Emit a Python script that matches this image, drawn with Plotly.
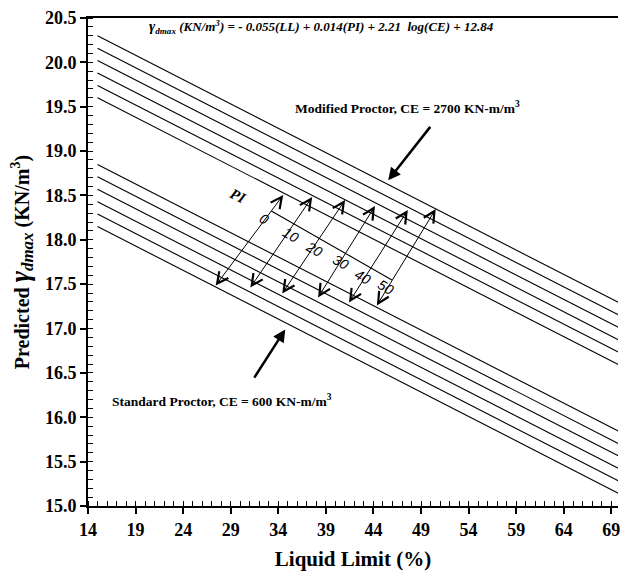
import plotly.graph_objects as go

# ---- data ----
ll_ends = [15, 70]                       # Liquid Limit (%) at line ends
pi_values = [0, 10, 20, 30, 40, 50]      # Plasticity index of each line
modified_start = [19.60, 19.74, 19.88, 20.02, 20.16, 20.30]   # at LL = 15
modified_end = [16.58, 16.72, 16.86, 17.00, 17.14, 17.28]     # at LL = 70
standard_start = [18.15, 18.29, 18.43, 18.57, 18.71, 18.85]   # at LL = 15
standard_end = [15.13, 15.27, 15.41, 15.55, 15.69, 15.83]     # at LL = 70

x_ticks = [14, 19, 24, 29, 34, 39, 44, 49, 54, 59, 64, 69]
y_ticks = [15.0, 15.5, 16.0, 16.5, 17.0, 17.5, 18.0, 18.5, 19.0, 19.5, 20.0, 20.5]

SERIF = "Liberation Serif"
SANS = "Liberation Sans"

fig = go.Figure()
for group_start, group_end in [(modified_start, modified_end), (standard_start, standard_end)]:
    for pi, y0, y1 in zip(pi_values, group_start, group_end):
        fig.add_trace(go.Scatter(x=ll_ends, y=[y0, y1], mode="lines",
                                 line=dict(color="black", width=1.1),
                                 name=f"PI {pi}", showlegend=False, hoverinfo="skip"))

annotations = []
# equation
annotations.append(dict(
    x=38.5, y=20.40, xref="x", yref="y", showarrow=False,
    text="<b><i><span style='font-size:15px'>γ</span><sub>dmax</sub> (KN/m<sup>3</sup>) = - 0.055(LL) + 0.014(PI) + 2.21\u00a0 log(CE) + 12.84</i></b>",
    font=dict(family=SERIF, size=13, color="black")))
# group labels
annotations.append(dict(x=47.6, y=19.49, xref="x", yref="y", showarrow=False,
                        text="<b>Modified Proctor, CE = 2700 KN-m/m<sup>3</sup></b>",
                        font=dict(family=SERIF, size=13.5, color="black")))
annotations.append(dict(x=28.1, y=16.19, xref="x", yref="y", showarrow=False,
                        text="<b>Standard Proctor, CE = 600 KN-m/m<sup>3</sup></b>",
                        font=dict(family=SERIF, size=13.5, color="black")))
# thick pointer arrows
annotations.append(dict(x=45.55, y=18.67, ax=50.09, ay=19.29, xref="x", yref="y",
                        axref="x", ayref="y", text="", showarrow=True,
                        arrowhead=2, arrowsize=1, arrowwidth=2.5, arrowcolor="black"))
annotations.append(dict(x=34.73, y=16.99, ax=31.38, ay=16.43, xref="x", yref="y",
                        axref="x", ayref="y", text="", showarrow=True,
                        arrowhead=2, arrowsize=1, arrowwidth=2.5, arrowcolor="black"))
# PI label
annotations.append(dict(x=29.74, y=18.49, xref="x", yref="y", showarrow=False,
                        text="<b><i>PI</i></b>", textangle=27,
                        font=dict(family=SERIF, size=15, color="black")))
# PI double arrows (top, bottom)
arrow_top = [(34.52, 18.505), (37.56, 18.483), (41.02, 18.449),
             (44.16, 18.381), (47.61, 18.336), (50.54, 18.347)]
arrow_bot = [(27.30, 17.468), (30.96, 17.446), (34.31, 17.378),
             (38.08, 17.333), (41.33, 17.277), (44.26, 17.243)]
for (xt, yt), (xb, yb) in zip(arrow_top, arrow_bot):
    annotations.append(dict(x=xt, y=yt, ax=xb, ay=yb, xref="x", yref="y",
                            axref="x", ayref="y", text="", showarrow=True,
                            arrowside="end+start", arrowhead=5, startarrowhead=5,
                            arrowsize=2.2, startarrowsize=2.2,
                            arrowwidth=1, arrowcolor="black"))
# PI value labels
label_pos = [(32.53, 18.23), (35.33, 18.055), (37.77, 17.90),
             (40.57, 17.75), (42.90, 17.58), (45.28, 17.47)]
for pi, (xl, yl) in zip(pi_values, label_pos):
    annotations.append(dict(x=xl, y=yl, xref="x", yref="y", showarrow=False,
                            text=f"<i>{pi}</i>", textangle=30,
                            font=dict(family=SANS, size=14, color="black")))

# PI scale baseline
fig.add_shape(type="line", x0=33.27, y0=18.325, x1=45.94, y1=17.547,
              xref="x", yref="y", line=dict(color="black", width=1.1))

fig.update_layout(
    width=620, height=571,
    margin=dict(l=88, r=0, t=18, b=65),
    paper_bgcolor="white", plot_bgcolor="white",
    showlegend=False,
    annotations=annotations,
    xaxis=dict(
        range=[14, 69.7], tickmode="array", tickvals=x_ticks,
        ticktext=[str(v) for v in x_ticks], ticklabeloverflow="allow",
        showgrid=False, zeroline=False,
        showline=True, linecolor="black", linewidth=2, mirror=True,
        ticks="outside", ticklen=6, tickwidth=1.5, tickcolor="black",
        minor=dict(dtick=1, ticks="inside", ticklen=5, tickwidth=1, tickcolor="black", showgrid=False),
        tickfont=dict(family=SERIF, size=18, color="black", weight="bold"),
        title=dict(text="<b>Liquid Limit (%)</b>", standoff=14,
                   font=dict(family=SERIF, size=21, color="black")),
    ),
    yaxis=dict(
        range=[15.0, 20.5], tickmode="array", tickvals=y_ticks,
        ticktext=[f"{v:.1f}" for v in y_ticks],
        showgrid=False, zeroline=False,
        showline=True, linecolor="black", linewidth=2,
        ticks="outside", ticklen=6, tickwidth=1.5, tickcolor="black",
        minor=dict(dtick=0.1, ticks="inside", ticklen=5, tickwidth=1, tickcolor="black", showgrid=False),
        tickfont=dict(family=SERIF, size=18, color="black", weight="bold"),
        title=dict(text="<b>Predicted <i><span style='font-size:27px'>γ</span><sub><span style='font-size:17px'>dmax</span></sub></i> (KN/m<sup>3</sup>)</b>",
                   standoff=10,
                   font=dict(family=SERIF, size=20, color="black")),
    ),
)

fig.write_html("out.html")
